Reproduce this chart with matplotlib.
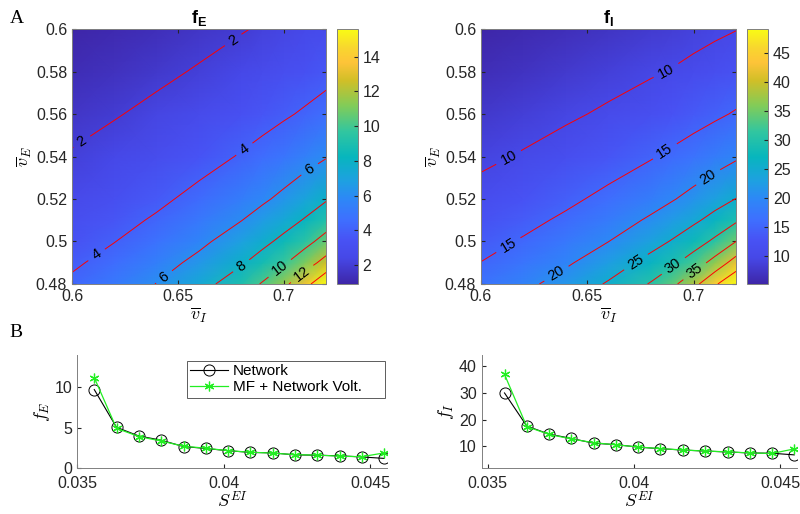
import numpy as np
import matplotlib
matplotlib.use("Agg")
import matplotlib.pyplot as plt
from matplotlib.colors import LinearSegmentedColormap
from matplotlib.ticker import FormatStrFormatter

plt.rcParams['font.family'] = ['Liberation Sans', 'DejaVu Sans']
plt.rcParams['mathtext.fontset'] = 'custom'
plt.rcParams['mathtext.it'] = 'cmmi10'
plt.rcParams['mathtext.rm'] = 'cmr10'
plt.rcParams['mathtext.bf'] = 'Liberation Sans:bold'

# grid of mean voltages
v_I = [0.60, 0.62, 0.64, 0.66, 0.68, 0.69, 0.70, 0.71, 0.72]
v_E = [0.48, 0.49, 0.50, 0.51, 0.52, 0.54, 0.56, 0.58, 0.60]

# f_E, one row per v_E value
f_E = [
    [4.26, 5.07, 6.04, 7.31, 9.05, 10.15, 11.55, 13.34, 15.60],
    [3.78, 4.49, 5.35, 6.42, 7.82, 8.73, 9.79, 11.10, 12.65],
    [3.36, 3.97, 4.73, 5.65, 6.83, 7.57, 8.43, 9.44, 10.67],
    [2.99, 3.53, 4.18, 4.99, 5.97, 6.60, 7.31, 8.13, 9.12],
    [2.66, 3.13, 3.70, 4.41, 5.27, 5.77, 6.35, 7.06, 7.85],
    [2.10, 2.46, 2.90, 3.45, 4.11, 4.49, 4.91, 5.38, 5.90],
    [1.59, 1.92, 2.28, 2.69, 3.20, 3.49, 3.82, 4.17, 4.57],
    [1.20, 1.45, 1.75, 2.10, 2.49, 2.71, 2.97, 3.24, 3.55],
    [0.90, 1.09, 1.32, 1.59, 1.93, 2.11, 2.30, 2.52, 2.75],
]

# f_I, one row per v_E value
f_I = [
    [16.70, 18.92, 21.81, 25.50, 30.40, 33.86, 38.40, 44.30, 49.10],
    [15.07, 17.05, 19.41, 22.56, 26.55, 29.10, 32.37, 36.70, 42.20],
    [13.67, 15.38, 17.46, 19.97, 23.35, 25.33, 27.80, 30.90, 35.00],
    [12.40, 13.90, 15.70, 17.90, 20.61, 22.31, 24.19, 26.50, 29.35],
    [11.25, 12.59, 14.15, 16.05, 18.37, 19.71, 21.31, 23.13, 25.10],
    [9.26, 10.31, 11.54, 12.99, 14.70, 15.71, 16.83, 18.07, 19.43],
    [7.64, 8.50, 9.45, 10.54, 11.87, 12.63, 13.45, 14.35, 15.34],
    [6.30, 7.02, 7.81, 8.67, 9.63, 10.16, 10.80, 11.49, 12.24],
    [5.20, 5.79, 6.45, 7.18, 8.00, 8.43, 8.90, 9.39, 9.90],
]

levels_E = [2, 4, 6, 8, 10, 12, 14]
levels_I = [10, 15, 20, 25, 30, 35, 40, 45]
cbar_ticks_E = [2, 4, 6, 8, 10, 12, 14]
cbar_ticks_I = [10, 15, 20, 25, 30, 35, 40, 45]

# where the contour labels sit (v_I, v_E)
labels_at_E = [(0.6046, 0.547), (0.6762, 0.5948), (0.6117, 0.4936), (0.6817, 0.5431),
               (0.6431, 0.4838), (0.7125, 0.5336), (0.6797, 0.4889), (0.6975, 0.4882),
               (0.7085, 0.4850)]
labels_at_I = [(0.6128, 0.5399), (0.6874, 0.5799), (0.6128, 0.4984), (0.6866, 0.5423),
               (0.6356, 0.4847), (0.7078, 0.5289), (0.6733, 0.4897), (0.6902, 0.4889),
               (0.7007, 0.4858)]

# panel B
S_EI = [0.03558, 0.03634, 0.03710, 0.03786, 0.03863, 0.03939, 0.04015,
        0.04091, 0.04167, 0.04243, 0.04320, 0.04396, 0.04472, 0.04548]
fE_net = [9.72, 5.04, 3.97, 3.45, 2.66, 2.42, 2.14, 1.94, 1.87, 1.63, 1.58, 1.51, 1.37, 1.19]
fE_mf = [11.2, 4.92, 3.90, 3.35, 2.70, 2.45, 2.15, 1.95, 1.85, 1.65, 1.60, 1.46, 1.40, 1.87]
fI_net = [29.9, 17.6, 14.6, 13.0, 11.2, 10.7, 9.76, 9.16, 8.68, 8.30, 7.96, 7.60, 7.48, 6.88]
fI_mf = [36.8, 17.4, 14.5, 12.8, 11.4, 10.6, 9.80, 9.20, 8.70, 8.30, 8.00, 7.60, 7.40, 9.10]

# approximate MATLAB parula
parula = LinearSegmentedColormap.from_list("parula", [
    (0.00, (0.2422, 0.1504, 0.6603)),
    (0.10, (0.2752, 0.2803, 0.9043)),
    (0.17, (0.2810, 0.3228, 0.9579)),
    (0.25, (0.2440, 0.4358, 0.9988)),
    (0.33, (0.1786, 0.5289, 0.9682)),
    (0.40, (0.1196, 0.6264, 0.8850)),
    (0.50, (0.0267, 0.7132, 0.7419)),
    (0.60, (0.1938, 0.7758, 0.6251)),
    (0.70, (0.5044, 0.7993, 0.3480)),
    (0.80, (0.8190, 0.7482, 0.1540)),
    (0.87, (0.9942, 0.7675, 0.2209)),
    (0.93, (0.9736, 0.8428, 0.1786)),
    (1.00, (0.9769, 0.9839, 0.0805)),
])

axc = '#262626'
fig = plt.figure(figsize=(8, 5.14), dpi=100)


def heat(rect, crect, field, levels, cticks, name, label_pos):
    ax = fig.add_axes(rect)
    cax = fig.add_axes(crect)
    Z = np.array(field)
    m = ax.pcolormesh(v_I, v_E, Z, cmap=parula, shading='gouraud',
                      vmin=Z.min(), vmax=Z.max())
    cs = ax.contour(v_I, v_E, Z, levels=levels, colors='r', linewidths=0.7)
    ax.clabel(cs, inline=True, fontsize=10.5, colors='k', fmt='%g',
              inline_spacing=6, manual=label_pos)
    ax.set_xlim(0.6, 0.72)
    ax.set_ylim(0.48, 0.6)
    ax.set_xticks([0.6, 0.65, 0.7])
    ax.set_yticks([0.48, 0.5, 0.52, 0.54, 0.56, 0.58, 0.6])
    ax.xaxis.set_major_formatter(FormatStrFormatter('%g'))
    ax.yaxis.set_major_formatter(FormatStrFormatter('%g'))
    ax.tick_params(direction='in', top=True, right=True, labelsize=11.5,
                   length=3, color=axc, labelcolor=axc)
    for s in ax.spines.values():
        s.set_color('#808080')
        s.set_linewidth(0.7)
    ax.set_xlabel(r'$\overline{v}_I$', fontsize=13, labelpad=1)
    ax.set_ylabel(r'$\overline{v}_E$', fontsize=13, labelpad=1)
    ax.set_title(name, fontsize=13, pad=4)
    cb = fig.colorbar(m, cax=cax, ticks=cticks)
    cb.ax.tick_params(direction='in', labelsize=11.5, length=3, color=axc, labelcolor=axc)
    cb.outline.set_edgecolor('#808080')
    cb.outline.set_linewidth(0.7)
    return ax


heat([0.09, 0.4475, 0.3175, 0.496], [0.4208, 0.4475, 0.0263, 0.496],
     f_E, levels_E, cbar_ticks_E, r'$\mathbf{f_E}$', labels_at_E)
heat([0.60125, 0.4475, 0.31875, 0.496], [0.9333, 0.4475, 0.027, 0.496],
     f_I, levels_I, cbar_ticks_I, r'$\mathbf{f_I}$', labels_at_I)

green = '#22ee22'


def curves(rect, net, mf, xlim, ylim, yticks, ylab, legend):
    ax = fig.add_axes(rect)
    ax.plot(S_EI, net, '-o', color='k', lw=0.8, ms=8, mfc='none', mew=0.7, label='Network')
    ax.plot(S_EI, mf, '-', color=green, lw=0.9, marker=(6, 2, 0), ms=7, mew=0.9,
            label='MF + Network Volt.')
    ax.set_xlim(*xlim)
    ax.set_ylim(*ylim)
    ax.set_xticks([0.035, 0.04, 0.045])
    ax.set_yticks(yticks)
    ax.xaxis.set_major_formatter(FormatStrFormatter('%g'))
    ax.spines['top'].set_visible(False)
    ax.spines['right'].set_visible(False)
    for s in ('left', 'bottom'):
        ax.spines[s].set_color('#808080')
        ax.spines[s].set_linewidth(0.7)
    ax.tick_params(direction='in', labelsize=11.5, length=3, color=axc, labelcolor=axc)
    ax.tick_params(axis='x', pad=6)
    ax.set_xlabel(r'$S^{EI}$', fontsize=13, labelpad=0)
    ax.set_ylabel(ylab, fontsize=13, labelpad=2)
    if legend:
        lg = ax.legend(loc='upper left', bbox_to_anchor=(0.355, 0.676, 0.64, 0.27),
                       mode='expand', fontsize=11, frameon=True, fancybox=False,
                       handlelength=2.5, borderpad=0.2, labelspacing=0.15,
                       handletextpad=0.3, borderaxespad=0.0)
        lg.get_frame().set_edgecolor('#333333')
        lg.get_frame().set_linewidth(0.7)
    return ax


curves([0.0966, 0.0895, 0.3868, 0.2198], fE_net, fE_mf, (0.035, 0.04557), (0, 14),
       [0, 5, 10], r'$f_E$', True)
curves([0.6021, 0.0895, 0.394, 0.2198], fI_net, fI_mf, (0.0348, 0.04557), (2, 44),
       [10, 20, 30, 40], r'$f_I$', False)

fig.text(0.012, 0.955, 'A', fontsize=14, family='Liberation Serif')
fig.text(0.012, 0.345, 'B', fontsize=14, family='Liberation Serif')

fig.savefig('out.png', dpi=100)
